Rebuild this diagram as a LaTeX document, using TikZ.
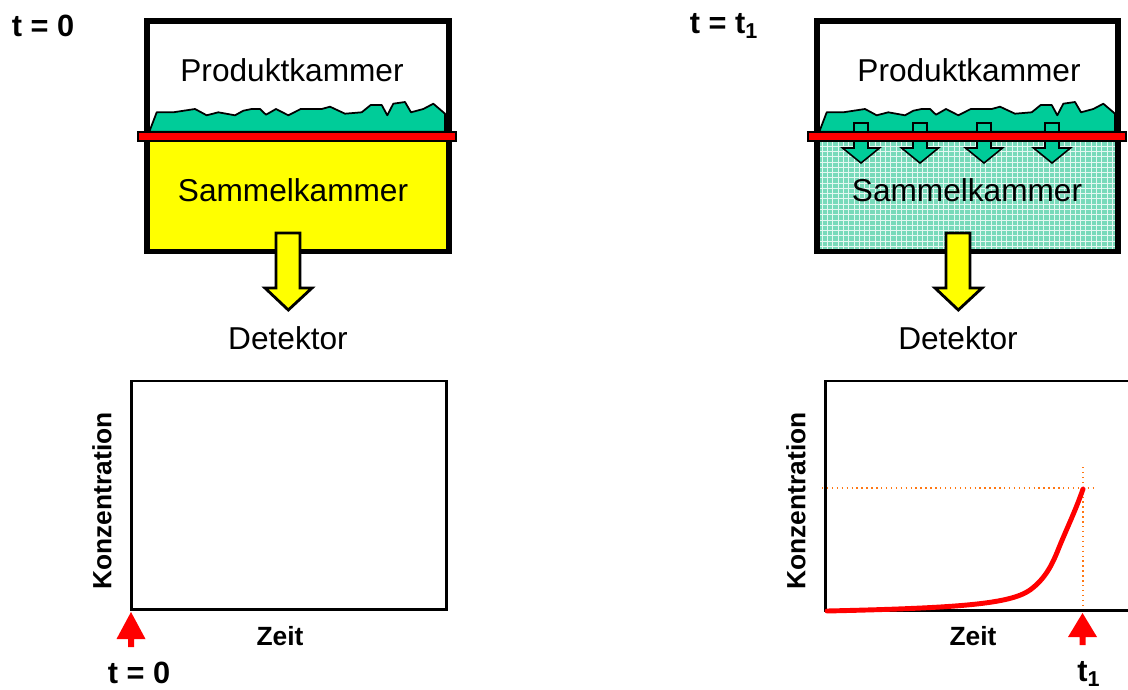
\documentclass[tikz,border=0pt]{standalone}
\usepackage{fontspec}
\setmainfont{Liberation Sans}
\usetikzlibrary{patterns}
\definecolor{surf}{RGB}{0,204,153}
\definecolor{yel}{RGB}{255,255,0}
\definecolor{redc}{RGB}{255,0,0}
\definecolor{tealfill}{RGB}{120,218,186}
\definecolor{dotor}{RGB}{255,120,20}
\tikzset{
  chamber/.style={draw=black, line width=3.4pt},
  surface/.style={fill=surf, draw=black, line width=1pt, line join=round},
  membrane/.style={fill=redc, draw=black, line width=1pt},
  yarrow/.style={fill=yel, draw=black, line width=1.6pt, line join=miter},
  garrow/.style={fill=surf, draw=black, line width=0.9pt},
  rarrow/.style={fill=redc, draw=none},
  plotbox/.style={draw=black, line width=1.7pt},
  big/.style={font=\fontsize{18pt}{20pt}\selectfont, inner sep=0pt},
  bigb/.style={font=\fontsize{17.5pt}{20pt}\selectfont\bfseries, inner sep=0pt},
  axlab/.style={font=\fontsize{15pt}{17pt}\selectfont\bfseries, inner sep=0pt},
  guide/.style={draw=dotor, line width=0.8pt, dotted},
  curve/.style={draw=redc, line width=2.8pt, line cap=round}
}
\begin{document}
\begin{tikzpicture}[x=0.02cm, y=-0.02cm]
\useasboundingbox (0,0) rectangle (1128,689);
\clip (0,0) rectangle (1128,689);

% ================= LEFT =================
\fill[yel] (147.3,136) rectangle (449,251.5);
\path[surface] (149.3,131.7) -- (156.7,112.3) -- (173.3,112.3) -- (195,109) -- (206.7,115.3) -- (218.3,112.3) -- (235,115.3) -- (243.3,110.7) -- (251.7,109) -- (260,109) -- (266,114.7) -- (276,109) -- (288.3,115.3) -- (300.7,109) -- (321.7,109) -- (330,106.7) -- (345,113.7) -- (361.7,112.3) -- (370.7,105) -- (381.7,105) -- (387.3,115.3) -- (393.3,103.7) -- (405,102) -- (411,112.3) -- (423.3,109) -- (433.3,103.7) -- (445,113.7) -- (445,131.7) -- cycle;
\draw[chamber] (147.3,21.3) rectangle (449,251.5);
\path[membrane] (138,132) rectangle (456,141);
\node[big] (pkL) at (292,70) {Produktkammer};
\node[big] (skL) at (293,190) {Sammelkammer};
\path[yarrow] (276,233) -- (300,233) -- (300,288) -- (312,288) -- (288.3,310) -- (265,288) -- (276,288) -- cycle;
\node[big] (detL) at (288,338) {Detektor};

\node[bigb] (t0top) at (43,26) {t = 0};

\draw[plotbox] (131.5,381) rectangle (446,609);
\node[axlab] (zeitL) at (280,636) {Zeit};
\node[axlab, rotate=90] (konzL) at (102,501) {Konzentration};
\path[rarrow] (131,612) -- (145.5,639) -- (134,639) -- (134,647) -- (128,647) -- (128,639) -- (116.5,639) -- cycle;
\node[bigb] (t0bot) at (139,673) {t = 0};

% ================= RIGHT =================
\fill[tealfill] (817.3,136) rectangle (1118,251.5);
\fill[pattern=grid, pattern color=white!80!tealfill] (817.3,136) rectangle (1118,251.5);
\begin{scope}[xshift=670*0.02cm]
\path[surface] (149.3,131.7) -- (156.7,112.3) -- (173.3,112.3) -- (195,109) -- (206.7,115.3) -- (218.3,112.3) -- (235,115.3) -- (243.3,110.7) -- (251.7,109) -- (260,109) -- (266,114.7) -- (276,109) -- (288.3,115.3) -- (300.7,109) -- (321.7,109) -- (330,106.7) -- (345,113.7) -- (361.7,112.3) -- (370.7,105) -- (381.7,105) -- (387.3,115.3) -- (393.3,103.7) -- (405,102) -- (411,112.3) -- (423.3,109) -- (433.3,103.7) -- (445,113.7) -- (445,131.7) -- cycle;
\end{scope}
\foreach \c in {861,920,984,1052}{
  \path[garrow] (\c-7,123) -- (\c+7,123) -- (\c+7,148) -- (\c+18.5,148) -- (\c,163) -- (\c-18.5,148) -- (\c-7,148) -- cycle;
}
\draw[chamber] (817.3,21.3) rectangle (1118,251.5);
\path[membrane] (808,132) rectangle (1126,141);
\node[big] (pkR) at (969,70) {Produktkammer};
\node[big] (skR) at (967,190) {Sammelkammer};
\path[yarrow] (946,233) -- (970,233) -- (970,288) -- (982,288) -- (958.3,310) -- (935,288) -- (946,288) -- cycle;
\node[big] (detR) at (958,338) {Detektor};

\node[bigb] (t1top) at (724,26) {t = t\textsubscript{1}};

\draw[guide] (822,488) -- (1095,488);
\draw[guide] (1083,467) -- (1083,610);
\draw[plotbox] (825.5,381) rectangle (1150,610);
\draw[curve] (827,611) .. controls (960,608) and (1010,604) .. (1030,590)
  .. controls (1045,579) and (1052,565) .. (1058,550)
  .. controls (1066,530) and (1075,512) .. (1083,489);
\node[axlab] (zeitR) at (973,636) {Zeit};
\node[axlab, rotate=90] (konzR) at (796,501) {Konzentration};
\path[rarrow] (1082.5,613) -- (1097,637) -- (1085.5,637) -- (1085.5,645) -- (1079.5,645) -- (1079.5,637) -- (1068,637) -- cycle;
\node[bigb] (t1bot) at (1089,674) {t\textsubscript{1}};
\end{tikzpicture}
\end{document}
